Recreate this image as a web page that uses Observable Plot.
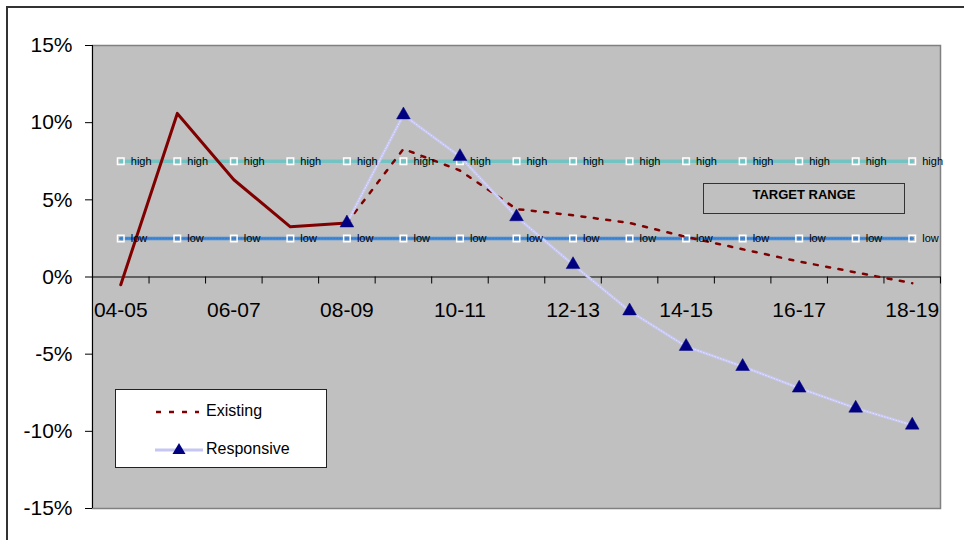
<!DOCTYPE html>
<html>
<head>
<meta charset="utf-8">
<script src="https://cdn.jsdelivr.net/npm/d3@7"></script>
<script src="https://cdn.jsdelivr.net/npm/@observablehq/plot@0.6"></script>
<style>
  html, body { margin: 0; padding: 0; background: #fff; overflow: hidden; }
  #wrap { position: relative; width: 964px; height: 540px; overflow: hidden; font-family: "Liberation Sans", Arial, sans-serif; }
  #outer { position: absolute; left: 6px; top: 6px; width: 1000px; height: 1000px; border: 2px solid #333; box-sizing: border-box; }
  #chart { position: absolute; left: 0; top: 0; }
  #legend { position: absolute; left: 115px; top: 389px; width: 212px; height: 79px; background: #fff; border: 1px solid #222; box-sizing: border-box; }
  .lg-item { position: absolute; left: 0; height: 20px; display: flex; align-items: center; font-size: 16px; color: #000; }
  .lg-item svg { display: block; }
  #target { position: absolute; left: 703px; top: 183px; width: 202px; height: 31px; border: 1.5px solid #333; box-sizing: border-box; text-align: center; font-weight: bold; font-size: 13px; padding-top: 3px; color: #000; }
</style>
</head>
<body>
<div id="wrap">
  <div id="outer"></div>
  <div id="chart"></div>
  <div id="target">TARGET RANGE</div>
  <div id="legend"></div>
</div>
<script>
// ---- data ----
const categories = ["04-05","05-06","06-07","07-08","08-09","09-10","10-11","11-12","12-13","13-14","14-15","15-16","16-17","17-18","18-19"];
const xTickLabels = ["04-05","06-07","08-09","10-11","12-13","14-15","16-17","18-19"];
const actual     = [-0.5, 10.6, 6.3, 3.25, 3.5, null, null, null, null, null, null, null, null, null, null];
const existing   = [null, null, null, null, 3.5, 8.3, 6.9, 4.4, 4.0, 3.5, 2.6, 1.8, 1.0, 0.3, -0.4];
const responsive = [null, null, null, null, 3.5, 10.5, 7.8, 3.9, 0.8, -2.2, -4.5, -5.8, -7.2, -8.5, -9.6];
const high = [7.5, 7.5, 7.5, 7.5, 7.5, 7.5, 7.5, 7.5, 7.5, 7.5, 7.5, 7.5, 7.5, 7.5, 7.5];
const low  = [2.5, 2.5, 2.5, 2.5, 2.5, 2.5, 2.5, 2.5, 2.5, 2.5, 2.5, 2.5, 2.5, 2.5, 2.5];
const yTicks = [-15, -10, -5, 0, 5, 10, 15];

// ---- tables ----
const rows = categories.map((c, i) => ({
  i, cat: c, actual: actual[i], existing: existing[i], responsive: responsive[i], high: high[i], low: low[i]
}));
const boundaries = d3.range(categories.length + 1).map(i => i - 0.5);
const labelRows = xTickLabels.map(l => ({ i: categories.indexOf(l), label: l }));

const FONT = "'Liberation Sans', Arial, sans-serif";
const DARKRED = "#800000";
const NAVY = "#000080";
const LAV = "#C6C6F2";
const TEAL = "#74C3C3";
const BLUE = "#3E8DDE";

const chart = Plot.plot({
  width: 964,
  height: 540,
  marginLeft: 92,
  marginRight: 24,
  marginTop: 45,
  marginBottom: 32,
  style: { fontFamily: FONT, background: "transparent", color: "#000", overflow: "visible" },
  x: { domain: [-0.5, categories.length - 0.5], axis: null },
  y: { domain: [-15, 15], axis: null },
  marks: [
    Plot.frame({ fill: "#C0C0C0", stroke: "#808080", strokeWidth: 1.5 }),
    Plot.ruleX([-0.5], { stroke: "#000", strokeWidth: 1 }),
    Plot.axisY({ ticks: yTicks, tickFormat: d => d + "%", tickSize: 7, tickPadding: 13, fontSize: 21, stroke: "#000", label: null }),
    Plot.ruleY([0], { stroke: "#000", strokeWidth: 1 }),
    Plot.ruleX(boundaries, { y1: 0, y2: 0, insetBottom: -7, stroke: "#000", strokeWidth: 1 }),
    Plot.text(labelRows, { x: "i", y: () => 0, text: "label", dy: 33, fontSize: 21, fill: "#000" }),
    // target range lines
    Plot.line(rows, { x: "i", y: "high", stroke: TEAL, strokeWidth: 3.5 }),
    Plot.line(rows, { x: "i", y: "low", stroke: BLUE, strokeWidth: 3.5 }),
    Plot.line(rows, { x: "i", y: "low", stroke: "#2F6FC0", strokeWidth: 1, strokeDasharray: "1,2", strokeOpacity: 0.6 }),
    Plot.dot(rows, { x: "i", y: "high", symbol: "square", r: 3.7, stroke: "#fff", strokeWidth: 1.5, fill: "none" }),
    Plot.dot(rows, { x: "i", y: "low", symbol: "square", r: 3.7, stroke: "#fff", strokeWidth: 1.5, fill: "none" }),
    // series
    Plot.line(rows, { x: "i", y: "actual", stroke: DARKRED, strokeWidth: 3 }),
    Plot.line(rows, { x: "i", y: "existing", stroke: DARKRED, strokeWidth: 2.5, strokeDasharray: "4,8.5" }),
    Plot.line(rows, { x: "i", y: "responsive", stroke: LAV, strokeWidth: 3 }),
    Plot.line(rows, { x: "i", y: "responsive", stroke: "#fff", strokeWidth: 1, strokeDasharray: "1,2", strokeOpacity: 0.5 }),
    Plot.dot(rows.filter(d => d.responsive != null), { x: "i", y: "responsive", symbol: "triangle", r: 5.1, fill: NAVY, stroke: NAVY, strokeWidth: 0.5 }),
    // labels
    Plot.text(rows, { x: "i", y: "high", text: () => "high", dx: 10, textAnchor: "start", fontSize: 11, fill: "#000" }),
    Plot.text(rows, { x: "i", y: "low", text: () => "low", dx: 10, textAnchor: "start", fontSize: 11, fill: "#000" })
  ]
});
document.getElementById("chart").appendChild(chart);

// ---- legend ----
const legend = document.getElementById("legend");
legend.innerHTML = `
  <div class="lg-item" style="top:11px; left:38px;">
    <svg width="52" height="20"><line x1="2" y1="11" x2="45" y2="11" stroke="${DARKRED}" stroke-width="2.5" stroke-dasharray="5,8"/></svg>
    <span style="margin-left:0px">Existing</span>
  </div>
  <div class="lg-item" style="top:49px; left:38px;">
    <svg width="52" height="20"><line x1="1" y1="11" x2="49" y2="11" stroke="${LAV}" stroke-width="3"/><path d="M25,4 L31.5,15 L18.5,15 Z" fill="${NAVY}"/></svg>
    <span style="margin-left:0px">Responsive</span>
  </div>`;
</script>
</body>
</html>
